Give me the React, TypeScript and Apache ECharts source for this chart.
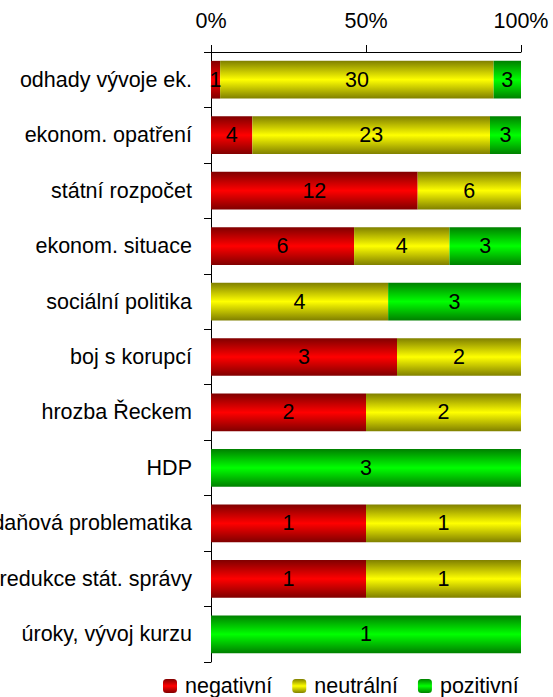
import React, { useEffect, useRef } from "react";
import * as echarts from "echarts";

const categories = [
  "odhady vývoje ek.",
  "ekonom. opatření",
  "státní rozpočet",
  "ekonom. situace",
  "sociální politika",
  "boj s korupcí",
  "hrozba Řeckem",
  "HDP",
  "daňová problematika",
  "redukce stát. správy",
  "úroky, vývoj kurzu",
];
const negativni = [1, 4, 12, 6, 0, 3, 2, 0, 1, 1, 0];
const neutralni = [30, 23, 6, 4, 4, 2, 2, 0, 1, 1, 0];
const pozitivni = [3, 3, 0, 3, 3, 0, 0, 3, 0, 0, 1];
const xTicks = [0, 50, 100];

const FONT = "'Liberation Sans', Arial, sans-serif";
const FS = 21.5;

function grad(dark: string, bright: string) {
  return new echarts.graphic.LinearGradient(0, 0, 0, 1, [
    { offset: 0, color: dark },
    { offset: 0.5, color: bright },
    { offset: 1, color: dark },
  ]);
}

export default function App() {
  const ref = useRef<HTMLDivElement>(null);
  useEffect(() => {
    if (!ref.current) return;
    const chart = echarts.init(ref.current, null, { renderer: "svg" });
    const totals = categories.map((_, i) => negativni[i] + neutralni[i] + pozitivni[i]);
    const mk = (name: string, counts: number[], dark: string, bright: string) => ({
      name,
      type: "bar",
      stack: "all",
      barWidth: "68%",
      data: counts.map((c, i) => ({ value: (c / totals[i]) * 100, count: c })),
      itemStyle: { color: grad(dark, bright) },
      label: {
        show: true,
        position: "inside",
        color: "#000",
        fontSize: FS,
        fontFamily: FONT,
        formatter: (p: any) => (p.data.count > 0 ? String(p.data.count) : ""),
      },
    });
    chart.setOption({
      animation: false,
      textStyle: { fontFamily: FONT },
      grid: {
        left: 211,
        right: 32,
        top: 52,
        bottom: 35,
        containLabel: false,
        outerBoundsMode: "none",
      },
      xAxis: {
        type: "value",
        position: "top",
        min: xTicks[0],
        max: xTicks[xTicks.length - 1],
        interval: xTicks[1] - xTicks[0],
        axisLine: { show: true, lineStyle: { color: "#000" } },
        axisTick: { show: true, length: 7, lineStyle: { color: "#000" } },
        axisLabel: { formatter: "{value}%", color: "#000", fontSize: FS, fontFamily: FONT, margin: 20 },
        splitLine: { show: false },
      },
      yAxis: {
        type: "category",
        inverse: true,
        data: categories,
        axisLine: { show: true, lineStyle: { color: "#000" } },
        axisTick: { show: true, length: 7, lineStyle: { color: "#000" } },
        axisLabel: { color: "#000", fontSize: FS, fontFamily: FONT, margin: 19 },
      },
      legend: {
        left: 163,
        top: 675,
        padding: 0,
        itemWidth: 14,
        itemHeight: 14,
        itemGap: 20,
        textStyle: { color: "#000", fontSize: FS, fontFamily: FONT, padding: [0, 0, 0, 3] },
        data: ["negativní", "neutrální", "pozitivní"],
      },
      series: [
        mk("negativní", negativni, "#800000", "#ff0000"),
        mk("neutrální", neutralni, "#808000", "#ffff00"),
        mk("pozitivní", pozitivni, "#008000", "#00ff00"),
      ],
    });
    return () => chart.dispose();
  }, []);
  return (
    <div
      ref={ref}
      style={{ position: "absolute", left: 0, top: 0, width: 553, height: 697 }}
    />
  );
}
